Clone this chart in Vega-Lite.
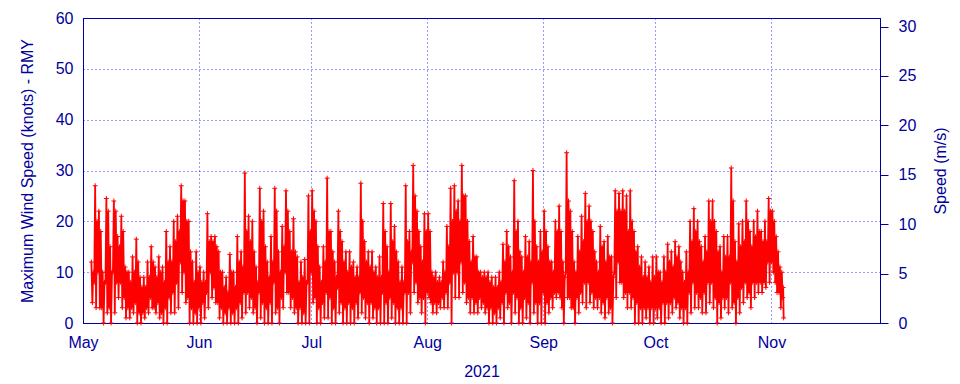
{
"$schema": "https://vega.github.io/schema/vega-lite/v6.json",
"width": 797, "height": 305,
"autosize": {"type": "none"},
"padding": {"left": 83, "top": 18, "right": 80, "bottom": 61},
"background": "white",
"config": {
 "font": "Liberation Sans",
 "view": {"stroke": "#00009c", "strokeWidth": 1},
 "axis": {"labelFont": "Liberation Sans", "labelFontSize": 16, "labelColor": "#00009c", "titleFont": "Liberation Sans", "titleFontSize": 16, "titleFontWeight": "normal", "titleColor": "#00009c", "domainColor": "#00009c", "tickColor": "#00009c", "gridColor": "#0000ff", "gridDash": [1, 3], "gridOpacity": 0.8, "gridWidth": 1}
},
"layer": [
 {
  "data": {"values": [
{"t":"2021-05-03T06:00","v":12},{"t":"2021-05-03T12:00","v":4},{"t":"2021-05-03T18:00","v":10},
{"t":"2021-05-04T00:00","v":8},{"t":"2021-05-04T06:00","v":27},{"t":"2021-05-04T12:00","v":3},{"t":"2021-05-04T18:00","v":20},
{"t":"2021-05-05T00:00","v":10},{"t":"2021-05-05T06:00","v":22},{"t":"2021-05-05T12:00","v":3},{"t":"2021-05-05T18:00","v":18},
{"t":"2021-05-06T00:00","v":3},{"t":"2021-05-06T06:00","v":10},{"t":"2021-05-06T12:00","v":0},{"t":"2021-05-06T18:00","v":8},
{"t":"2021-05-07T00:00","v":8},{"t":"2021-05-07T06:00","v":24.5},{"t":"2021-05-07T12:00","v":2},{"t":"2021-05-07T18:00","v":22},
{"t":"2021-05-08T00:00","v":3},{"t":"2021-05-08T06:00","v":15},{"t":"2021-05-08T12:00","v":0},{"t":"2021-05-08T18:00","v":10},
{"t":"2021-05-09T00:00","v":10},{"t":"2021-05-09T06:00","v":24},{"t":"2021-05-09T12:00","v":2},{"t":"2021-05-09T18:00","v":22},
{"t":"2021-05-10T00:00","v":8},{"t":"2021-05-10T06:00","v":17},{"t":"2021-05-10T12:00","v":5},{"t":"2021-05-10T18:00","v":15},
{"t":"2021-05-11T00:00","v":8},{"t":"2021-05-11T06:00","v":21},{"t":"2021-05-11T12:00","v":3},{"t":"2021-05-11T18:00","v":18},
{"t":"2021-05-12T00:00","v":5},{"t":"2021-05-12T06:00","v":11},{"t":"2021-05-12T12:00","v":1},{"t":"2021-05-12T18:00","v":10},
{"t":"2021-05-13T00:00","v":3},{"t":"2021-05-13T06:00","v":10},{"t":"2021-05-13T12:00","v":1},{"t":"2021-05-13T18:00","v":8},
{"t":"2021-05-14T00:00","v":3},{"t":"2021-05-14T06:00","v":13},{"t":"2021-05-14T12:00","v":2},{"t":"2021-05-14T18:00","v":10},
{"t":"2021-05-15T00:00","v":4},{"t":"2021-05-15T06:00","v":16.5},{"t":"2021-05-15T12:00","v":0},{"t":"2021-05-15T18:00","v":12},
{"t":"2021-05-16T00:00","v":2},{"t":"2021-05-16T06:00","v":9},{"t":"2021-05-16T12:00","v":0},{"t":"2021-05-16T18:00","v":7},
{"t":"2021-05-17T00:00","v":2},{"t":"2021-05-17T06:00","v":9},{"t":"2021-05-17T12:00","v":1},{"t":"2021-05-17T18:00","v":7},
{"t":"2021-05-18T00:00","v":3},{"t":"2021-05-18T06:00","v":12},{"t":"2021-05-18T12:00","v":2},{"t":"2021-05-18T18:00","v":9},
{"t":"2021-05-19T00:00","v":5},{"t":"2021-05-19T06:00","v":15},{"t":"2021-05-19T12:00","v":3},{"t":"2021-05-19T18:00","v":12},
{"t":"2021-05-20T00:00","v":3},{"t":"2021-05-20T06:00","v":11},{"t":"2021-05-20T12:00","v":2},{"t":"2021-05-20T18:00","v":9},
{"t":"2021-05-21T00:00","v":4},{"t":"2021-05-21T06:00","v":13},{"t":"2021-05-21T12:00","v":1},{"t":"2021-05-21T18:00","v":10},
{"t":"2021-05-22T00:00","v":2},{"t":"2021-05-22T06:00","v":11},{"t":"2021-05-22T12:00","v":0},{"t":"2021-05-22T18:00","v":8},
{"t":"2021-05-23T00:00","v":3},{"t":"2021-05-23T06:00","v":18},{"t":"2021-05-23T12:00","v":0},{"t":"2021-05-23T18:00","v":12},
{"t":"2021-05-24T00:00","v":5},{"t":"2021-05-24T06:00","v":15},{"t":"2021-05-24T12:00","v":2},{"t":"2021-05-24T18:00","v":12},
{"t":"2021-05-25T00:00","v":6},{"t":"2021-05-25T06:00","v":20},{"t":"2021-05-25T12:00","v":2},{"t":"2021-05-25T18:00","v":16},
{"t":"2021-05-26T00:00","v":8},{"t":"2021-05-26T06:00","v":21},{"t":"2021-05-26T12:00","v":3},{"t":"2021-05-26T18:00","v":18},
{"t":"2021-05-27T00:00","v":12},{"t":"2021-05-27T06:00","v":27},{"t":"2021-05-27T12:00","v":6},{"t":"2021-05-27T18:00","v":24},
{"t":"2021-05-28T00:00","v":10},{"t":"2021-05-28T06:00","v":24},{"t":"2021-05-28T12:00","v":4},{"t":"2021-05-28T18:00","v":20},
{"t":"2021-05-29T00:00","v":5},{"t":"2021-05-29T06:00","v":20},{"t":"2021-05-29T12:00","v":0},{"t":"2021-05-29T18:00","v":14},
{"t":"2021-05-30T00:00","v":3},{"t":"2021-05-30T06:00","v":12},{"t":"2021-05-30T12:00","v":0},{"t":"2021-05-30T18:00","v":8},
{"t":"2021-05-31T00:00","v":2},{"t":"2021-05-31T06:00","v":14},{"t":"2021-05-31T12:00","v":0},{"t":"2021-05-31T18:00","v":10},
{"t":"2021-06-01T00:00","v":3},{"t":"2021-06-01T06:00","v":11},{"t":"2021-06-01T12:00","v":0},{"t":"2021-06-01T18:00","v":8},
{"t":"2021-06-02T00:00","v":4},{"t":"2021-06-02T06:00","v":10},{"t":"2021-06-02T12:00","v":1},{"t":"2021-06-02T18:00","v":8},
{"t":"2021-06-03T00:00","v":6},{"t":"2021-06-03T06:00","v":21.5},{"t":"2021-06-03T12:00","v":3},{"t":"2021-06-03T18:00","v":16},
{"t":"2021-06-04T00:00","v":10},{"t":"2021-06-04T06:00","v":17},{"t":"2021-06-04T12:00","v":5},{"t":"2021-06-04T18:00","v":16},
{"t":"2021-06-05T00:00","v":7},{"t":"2021-06-05T06:00","v":17},{"t":"2021-06-05T12:00","v":4},{"t":"2021-06-05T18:00","v":15},
{"t":"2021-06-06T00:00","v":4},{"t":"2021-06-06T06:00","v":14},{"t":"2021-06-06T12:00","v":1},{"t":"2021-06-06T18:00","v":10},
{"t":"2021-06-07T00:00","v":3},{"t":"2021-06-07T06:00","v":10},{"t":"2021-06-07T12:00","v":0},{"t":"2021-06-07T18:00","v":7},
{"t":"2021-06-08T00:00","v":2},{"t":"2021-06-08T06:00","v":9},{"t":"2021-06-08T12:00","v":0},{"t":"2021-06-08T18:00","v":6},
{"t":"2021-06-09T00:00","v":3},{"t":"2021-06-09T06:00","v":13.5},{"t":"2021-06-09T12:00","v":0},{"t":"2021-06-09T18:00","v":10},
{"t":"2021-06-10T00:00","v":2},{"t":"2021-06-10T06:00","v":10},{"t":"2021-06-10T12:00","v":0},{"t":"2021-06-10T18:00","v":7},
{"t":"2021-06-11T00:00","v":3},{"t":"2021-06-11T06:00","v":17},{"t":"2021-06-11T12:00","v":0},{"t":"2021-06-11T18:00","v":12},
{"t":"2021-06-12T00:00","v":4},{"t":"2021-06-12T06:00","v":14},{"t":"2021-06-12T12:00","v":1},{"t":"2021-06-12T18:00","v":11},
{"t":"2021-06-13T00:00","v":6},{"t":"2021-06-13T06:00","v":29.5},{"t":"2021-06-13T12:00","v":2},{"t":"2021-06-13T18:00","v":18},
{"t":"2021-06-14T00:00","v":6},{"t":"2021-06-14T06:00","v":21},{"t":"2021-06-14T12:00","v":3},{"t":"2021-06-14T18:00","v":16},
{"t":"2021-06-15T00:00","v":5},{"t":"2021-06-15T06:00","v":20},{"t":"2021-06-15T12:00","v":2},{"t":"2021-06-15T18:00","v":14},
{"t":"2021-06-16T00:00","v":3},{"t":"2021-06-16T06:00","v":11},{"t":"2021-06-16T12:00","v":0},{"t":"2021-06-16T18:00","v":8},
{"t":"2021-06-17T00:00","v":6},{"t":"2021-06-17T06:00","v":26.5},{"t":"2021-06-17T12:00","v":1},{"t":"2021-06-17T18:00","v":20},
{"t":"2021-06-18T00:00","v":4},{"t":"2021-06-18T06:00","v":22},{"t":"2021-06-18T12:00","v":0},{"t":"2021-06-18T18:00","v":15},
{"t":"2021-06-19T00:00","v":3},{"t":"2021-06-19T06:00","v":12},{"t":"2021-06-19T12:00","v":0},{"t":"2021-06-19T18:00","v":9},
{"t":"2021-06-20T00:00","v":4},{"t":"2021-06-20T06:00","v":17},{"t":"2021-06-20T12:00","v":0},{"t":"2021-06-20T18:00","v":12},
{"t":"2021-06-21T00:00","v":8},{"t":"2021-06-21T06:00","v":26.5},{"t":"2021-06-21T12:00","v":2},{"t":"2021-06-21T18:00","v":22},
{"t":"2021-06-22T00:00","v":3},{"t":"2021-06-22T06:00","v":14},{"t":"2021-06-22T12:00","v":0},{"t":"2021-06-22T18:00","v":10},
{"t":"2021-06-23T00:00","v":5},{"t":"2021-06-23T06:00","v":19},{"t":"2021-06-23T12:00","v":3},{"t":"2021-06-23T18:00","v":15},
{"t":"2021-06-24T00:00","v":10},{"t":"2021-06-24T06:00","v":26},{"t":"2021-06-24T12:00","v":6},{"t":"2021-06-24T18:00","v":22},
{"t":"2021-06-25T00:00","v":6},{"t":"2021-06-25T06:00","v":18},{"t":"2021-06-25T12:00","v":3},{"t":"2021-06-25T18:00","v":14},
{"t":"2021-06-26T00:00","v":5},{"t":"2021-06-26T06:00","v":20.5},{"t":"2021-06-26T12:00","v":2},{"t":"2021-06-26T18:00","v":14},
{"t":"2021-06-27T00:00","v":3},{"t":"2021-06-27T06:00","v":13},{"t":"2021-06-27T12:00","v":0},{"t":"2021-06-27T18:00","v":8},
{"t":"2021-06-28T00:00","v":3},{"t":"2021-06-28T06:00","v":12},{"t":"2021-06-28T12:00","v":0},{"t":"2021-06-28T18:00","v":9},
{"t":"2021-06-29T00:00","v":2},{"t":"2021-06-29T06:00","v":12.5},{"t":"2021-06-29T12:00","v":0},{"t":"2021-06-29T18:00","v":8},
{"t":"2021-06-30T00:00","v":8},{"t":"2021-06-30T06:00","v":25},{"t":"2021-06-30T12:00","v":0},{"t":"2021-06-30T18:00","v":18},
{"t":"2021-07-01T00:00","v":10},{"t":"2021-07-01T06:00","v":26},{"t":"2021-07-01T12:00","v":4},{"t":"2021-07-01T18:00","v":22},
{"t":"2021-07-02T00:00","v":5},{"t":"2021-07-02T06:00","v":20},{"t":"2021-07-02T12:00","v":0},{"t":"2021-07-02T18:00","v":15},
{"t":"2021-07-03T00:00","v":3},{"t":"2021-07-03T06:00","v":11},{"t":"2021-07-03T12:00","v":0},{"t":"2021-07-03T18:00","v":8},
{"t":"2021-07-04T00:00","v":4},{"t":"2021-07-04T06:00","v":15},{"t":"2021-07-04T12:00","v":1},{"t":"2021-07-04T18:00","v":12},
{"t":"2021-07-05T00:00","v":6},{"t":"2021-07-05T06:00","v":28.5},{"t":"2021-07-05T12:00","v":1},{"t":"2021-07-05T18:00","v":18},
{"t":"2021-07-06T00:00","v":5},{"t":"2021-07-06T06:00","v":18},{"t":"2021-07-06T12:00","v":0},{"t":"2021-07-06T18:00","v":14},
{"t":"2021-07-07T00:00","v":3},{"t":"2021-07-07T06:00","v":12},{"t":"2021-07-07T12:00","v":0},{"t":"2021-07-07T18:00","v":9},
{"t":"2021-07-08T00:00","v":7},{"t":"2021-07-08T06:00","v":22},{"t":"2021-07-08T12:00","v":2},{"t":"2021-07-08T18:00","v":18},
{"t":"2021-07-09T00:00","v":4},{"t":"2021-07-09T06:00","v":16},{"t":"2021-07-09T12:00","v":0},{"t":"2021-07-09T18:00","v":12},
{"t":"2021-07-10T00:00","v":3},{"t":"2021-07-10T06:00","v":14},{"t":"2021-07-10T12:00","v":0},{"t":"2021-07-10T18:00","v":10},
{"t":"2021-07-11T00:00","v":4},{"t":"2021-07-11T06:00","v":14},{"t":"2021-07-11T12:00","v":0},{"t":"2021-07-11T18:00","v":11},
{"t":"2021-07-12T00:00","v":3},{"t":"2021-07-12T06:00","v":12},{"t":"2021-07-12T12:00","v":0},{"t":"2021-07-12T18:00","v":9},
{"t":"2021-07-13T00:00","v":4},{"t":"2021-07-13T06:00","v":11},{"t":"2021-07-13T12:00","v":1},{"t":"2021-07-13T18:00","v":9},
{"t":"2021-07-14T00:00","v":6},{"t":"2021-07-14T06:00","v":27.5},{"t":"2021-07-14T12:00","v":2},{"t":"2021-07-14T18:00","v":20},
{"t":"2021-07-15T00:00","v":5},{"t":"2021-07-15T06:00","v":16},{"t":"2021-07-15T12:00","v":1},{"t":"2021-07-15T18:00","v":12},
{"t":"2021-07-16T00:00","v":4},{"t":"2021-07-16T06:00","v":14},{"t":"2021-07-16T12:00","v":0},{"t":"2021-07-16T18:00","v":11},
{"t":"2021-07-17T00:00","v":4},{"t":"2021-07-17T06:00","v":14},{"t":"2021-07-17T12:00","v":1},{"t":"2021-07-17T18:00","v":10},
{"t":"2021-07-18T00:00","v":3},{"t":"2021-07-18T06:00","v":11},{"t":"2021-07-18T12:00","v":0},{"t":"2021-07-18T18:00","v":9},
{"t":"2021-07-19T00:00","v":3},{"t":"2021-07-19T06:00","v":13},{"t":"2021-07-19T12:00","v":0},{"t":"2021-07-19T18:00","v":9},
{"t":"2021-07-20T00:00","v":6},{"t":"2021-07-20T06:00","v":23.5},{"t":"2021-07-20T12:00","v":0},{"t":"2021-07-20T18:00","v":18},
{"t":"2021-07-21T00:00","v":4},{"t":"2021-07-21T06:00","v":15},{"t":"2021-07-21T12:00","v":0},{"t":"2021-07-21T18:00","v":10},
{"t":"2021-07-22T00:00","v":5},{"t":"2021-07-22T06:00","v":23.5},{"t":"2021-07-22T12:00","v":1},{"t":"2021-07-22T18:00","v":16},
{"t":"2021-07-23T00:00","v":4},{"t":"2021-07-23T06:00","v":19},{"t":"2021-07-23T12:00","v":0},{"t":"2021-07-23T18:00","v":14},
{"t":"2021-07-24T00:00","v":3},{"t":"2021-07-24T06:00","v":12},{"t":"2021-07-24T12:00","v":0},{"t":"2021-07-24T18:00","v":8},
{"t":"2021-07-25T00:00","v":3},{"t":"2021-07-25T06:00","v":11},{"t":"2021-07-25T12:00","v":0},{"t":"2021-07-25T18:00","v":8},
{"t":"2021-07-26T00:00","v":6},{"t":"2021-07-26T06:00","v":27},{"t":"2021-07-26T12:00","v":0},{"t":"2021-07-26T18:00","v":16},
{"t":"2021-07-27T00:00","v":6},{"t":"2021-07-27T06:00","v":18},{"t":"2021-07-27T12:00","v":2},{"t":"2021-07-27T18:00","v":14},
{"t":"2021-07-28T00:00","v":12},{"t":"2021-07-28T06:00","v":31},{"t":"2021-07-28T12:00","v":6},{"t":"2021-07-28T18:00","v":25},
{"t":"2021-07-29T00:00","v":8},{"t":"2021-07-29T06:00","v":22},{"t":"2021-07-29T12:00","v":4},{"t":"2021-07-29T18:00","v":18},
{"t":"2021-07-30T00:00","v":5},{"t":"2021-07-30T06:00","v":15},{"t":"2021-07-30T12:00","v":2},{"t":"2021-07-30T18:00","v":12},
{"t":"2021-07-31T00:00","v":5},{"t":"2021-07-31T06:00","v":21.5},{"t":"2021-07-31T12:00","v":0},{"t":"2021-07-31T18:00","v":18},
{"t":"2021-08-01T00:00","v":6},{"t":"2021-08-01T06:00","v":21.5},{"t":"2021-08-01T12:00","v":5},{"t":"2021-08-01T18:00","v":18},
{"t":"2021-08-02T00:00","v":4},{"t":"2021-08-02T06:00","v":10},{"t":"2021-08-02T12:00","v":2},{"t":"2021-08-02T18:00","v":9},
{"t":"2021-08-03T00:00","v":4},{"t":"2021-08-03T06:00","v":10},{"t":"2021-08-03T12:00","v":2},{"t":"2021-08-03T18:00","v":8},
{"t":"2021-08-04T00:00","v":4},{"t":"2021-08-04T06:00","v":9},{"t":"2021-08-04T12:00","v":3},{"t":"2021-08-04T18:00","v":8},
{"t":"2021-08-05T00:00","v":5},{"t":"2021-08-05T06:00","v":12},{"t":"2021-08-05T12:00","v":3},{"t":"2021-08-05T18:00","v":10},
{"t":"2021-08-06T00:00","v":6},{"t":"2021-08-06T06:00","v":19},{"t":"2021-08-06T12:00","v":3},{"t":"2021-08-06T18:00","v":15},
{"t":"2021-08-07T00:00","v":8},{"t":"2021-08-07T06:00","v":26.5},{"t":"2021-08-07T12:00","v":0},{"t":"2021-08-07T18:00","v":20},
{"t":"2021-08-08T00:00","v":10},{"t":"2021-08-08T06:00","v":27},{"t":"2021-08-08T12:00","v":5},{"t":"2021-08-08T18:00","v":22},
{"t":"2021-08-09T00:00","v":10},{"t":"2021-08-09T06:00","v":24},{"t":"2021-08-09T12:00","v":5},{"t":"2021-08-09T18:00","v":20},
{"t":"2021-08-10T00:00","v":12},{"t":"2021-08-10T06:00","v":31},{"t":"2021-08-10T12:00","v":6},{"t":"2021-08-10T18:00","v":25},
{"t":"2021-08-11T00:00","v":8},{"t":"2021-08-11T06:00","v":25},{"t":"2021-08-11T12:00","v":4},{"t":"2021-08-11T18:00","v":20},
{"t":"2021-08-12T00:00","v":5},{"t":"2021-08-12T06:00","v":16},{"t":"2021-08-12T12:00","v":2},{"t":"2021-08-12T18:00","v":12},
{"t":"2021-08-13T00:00","v":5},{"t":"2021-08-13T06:00","v":17},{"t":"2021-08-13T12:00","v":2},{"t":"2021-08-13T18:00","v":13},
{"t":"2021-08-14T00:00","v":4},{"t":"2021-08-14T06:00","v":13},{"t":"2021-08-14T12:00","v":2},{"t":"2021-08-14T18:00","v":10},
{"t":"2021-08-15T00:00","v":5},{"t":"2021-08-15T06:00","v":10},{"t":"2021-08-15T12:00","v":3},{"t":"2021-08-15T18:00","v":9},
{"t":"2021-08-16T00:00","v":4},{"t":"2021-08-16T06:00","v":10},{"t":"2021-08-16T12:00","v":2},{"t":"2021-08-16T18:00","v":9},
{"t":"2021-08-17T00:00","v":3},{"t":"2021-08-17T06:00","v":10},{"t":"2021-08-17T12:00","v":0},{"t":"2021-08-17T18:00","v":8},
{"t":"2021-08-18T00:00","v":3},{"t":"2021-08-18T06:00","v":9},{"t":"2021-08-18T12:00","v":0},{"t":"2021-08-18T18:00","v":7},
{"t":"2021-08-19T00:00","v":2},{"t":"2021-08-19T06:00","v":9},{"t":"2021-08-19T12:00","v":0},{"t":"2021-08-19T18:00","v":7},
{"t":"2021-08-20T00:00","v":3},{"t":"2021-08-20T06:00","v":10},{"t":"2021-08-20T12:00","v":1},{"t":"2021-08-20T18:00","v":8},
{"t":"2021-08-21T00:00","v":4},{"t":"2021-08-21T06:00","v":15.5},{"t":"2021-08-21T12:00","v":0},{"t":"2021-08-21T18:00","v":12},
{"t":"2021-08-22T00:00","v":6},{"t":"2021-08-22T06:00","v":18},{"t":"2021-08-22T12:00","v":3},{"t":"2021-08-22T18:00","v":15},
{"t":"2021-08-23T00:00","v":4},{"t":"2021-08-23T06:00","v":13},{"t":"2021-08-23T12:00","v":0},{"t":"2021-08-23T18:00","v":10},
{"t":"2021-08-24T00:00","v":6},{"t":"2021-08-24T06:00","v":28},{"t":"2021-08-24T12:00","v":2},{"t":"2021-08-24T18:00","v":18},
{"t":"2021-08-25T00:00","v":5},{"t":"2021-08-25T06:00","v":20},{"t":"2021-08-25T12:00","v":0},{"t":"2021-08-25T18:00","v":14},
{"t":"2021-08-26T00:00","v":3},{"t":"2021-08-26T06:00","v":13},{"t":"2021-08-26T12:00","v":0},{"t":"2021-08-26T18:00","v":10},
{"t":"2021-08-27T00:00","v":5},{"t":"2021-08-27T06:00","v":17},{"t":"2021-08-27T12:00","v":1},{"t":"2021-08-27T18:00","v":13},
{"t":"2021-08-28T00:00","v":4},{"t":"2021-08-28T06:00","v":16},{"t":"2021-08-28T12:00","v":0},{"t":"2021-08-28T18:00","v":12},
{"t":"2021-08-29T00:00","v":8},{"t":"2021-08-29T06:00","v":30},{"t":"2021-08-29T12:00","v":2},{"t":"2021-08-29T18:00","v":20},
{"t":"2021-08-30T00:00","v":4},{"t":"2021-08-30T06:00","v":15},{"t":"2021-08-30T12:00","v":0},{"t":"2021-08-30T18:00","v":12},
{"t":"2021-08-31T00:00","v":4},{"t":"2021-08-31T06:00","v":18},{"t":"2021-08-31T12:00","v":0},{"t":"2021-08-31T18:00","v":14},
{"t":"2021-09-01T00:00","v":6},{"t":"2021-09-01T06:00","v":22},{"t":"2021-09-01T12:00","v":0},{"t":"2021-09-01T18:00","v":18},
{"t":"2021-09-02T00:00","v":4},{"t":"2021-09-02T06:00","v":15},{"t":"2021-09-02T12:00","v":2},{"t":"2021-09-02T18:00","v":12},
{"t":"2021-09-03T00:00","v":5},{"t":"2021-09-03T06:00","v":12},{"t":"2021-09-03T12:00","v":3},{"t":"2021-09-03T18:00","v":10},
{"t":"2021-09-04T00:00","v":6},{"t":"2021-09-04T06:00","v":20},{"t":"2021-09-04T12:00","v":5},{"t":"2021-09-04T18:00","v":18},
{"t":"2021-09-05T00:00","v":6},{"t":"2021-09-05T06:00","v":23},{"t":"2021-09-05T12:00","v":5},{"t":"2021-09-05T18:00","v":18},
{"t":"2021-09-06T00:00","v":3},{"t":"2021-09-06T06:00","v":12},{"t":"2021-09-06T12:00","v":0},{"t":"2021-09-06T18:00","v":9},
{"t":"2021-09-07T00:00","v":10},{"t":"2021-09-07T06:00","v":33.5},{"t":"2021-09-07T12:00","v":5},{"t":"2021-09-07T18:00","v":24},
{"t":"2021-09-08T00:00","v":5},{"t":"2021-09-08T06:00","v":22},{"t":"2021-09-08T12:00","v":3},{"t":"2021-09-08T18:00","v":18},
{"t":"2021-09-09T00:00","v":3},{"t":"2021-09-09T06:00","v":12},{"t":"2021-09-09T12:00","v":0},{"t":"2021-09-09T18:00","v":10},
{"t":"2021-09-10T00:00","v":5},{"t":"2021-09-10T06:00","v":17},{"t":"2021-09-10T12:00","v":2},{"t":"2021-09-10T18:00","v":14},
{"t":"2021-09-11T00:00","v":6},{"t":"2021-09-11T06:00","v":21},{"t":"2021-09-11T12:00","v":4},{"t":"2021-09-11T18:00","v":16},
{"t":"2021-09-12T00:00","v":8},{"t":"2021-09-12T06:00","v":25.5},{"t":"2021-09-12T12:00","v":3},{"t":"2021-09-12T18:00","v":20},
{"t":"2021-09-13T00:00","v":8},{"t":"2021-09-13T06:00","v":23},{"t":"2021-09-13T12:00","v":4},{"t":"2021-09-13T18:00","v":20},
{"t":"2021-09-14T00:00","v":6},{"t":"2021-09-14T06:00","v":18},{"t":"2021-09-14T12:00","v":3},{"t":"2021-09-14T18:00","v":14},
{"t":"2021-09-15T00:00","v":5},{"t":"2021-09-15T06:00","v":12},{"t":"2021-09-15T12:00","v":3},{"t":"2021-09-15T18:00","v":10},
{"t":"2021-09-16T00:00","v":5},{"t":"2021-09-16T06:00","v":19},{"t":"2021-09-16T12:00","v":2},{"t":"2021-09-16T18:00","v":15},
{"t":"2021-09-17T00:00","v":4},{"t":"2021-09-17T06:00","v":16},{"t":"2021-09-17T12:00","v":1},{"t":"2021-09-17T18:00","v":12},
{"t":"2021-09-18T00:00","v":5},{"t":"2021-09-18T06:00","v":17},{"t":"2021-09-18T12:00","v":2},{"t":"2021-09-18T18:00","v":13},
{"t":"2021-09-19T00:00","v":3},{"t":"2021-09-19T06:00","v":13},{"t":"2021-09-19T12:00","v":0},{"t":"2021-09-19T18:00","v":9},
{"t":"2021-09-20T00:00","v":10},{"t":"2021-09-20T06:00","v":26},{"t":"2021-09-20T12:00","v":5},{"t":"2021-09-20T18:00","v":22},
{"t":"2021-09-21T00:00","v":12},{"t":"2021-09-21T06:00","v":25.5},{"t":"2021-09-21T12:00","v":8},{"t":"2021-09-21T18:00","v":22},
{"t":"2021-09-22T00:00","v":8},{"t":"2021-09-22T06:00","v":26},{"t":"2021-09-22T12:00","v":5},{"t":"2021-09-22T18:00","v":22},
{"t":"2021-09-23T00:00","v":6},{"t":"2021-09-23T06:00","v":25},{"t":"2021-09-23T12:00","v":3},{"t":"2021-09-23T18:00","v":18},
{"t":"2021-09-24T00:00","v":6},{"t":"2021-09-24T06:00","v":26},{"t":"2021-09-24T12:00","v":3},{"t":"2021-09-24T18:00","v":20},
{"t":"2021-09-25T00:00","v":5},{"t":"2021-09-25T06:00","v":18},{"t":"2021-09-25T12:00","v":0},{"t":"2021-09-25T18:00","v":14},
{"t":"2021-09-26T00:00","v":4},{"t":"2021-09-26T06:00","v":15},{"t":"2021-09-26T12:00","v":0},{"t":"2021-09-26T18:00","v":11},
{"t":"2021-09-27T00:00","v":3},{"t":"2021-09-27T06:00","v":13},{"t":"2021-09-27T12:00","v":0},{"t":"2021-09-27T18:00","v":9},
{"t":"2021-09-28T00:00","v":3},{"t":"2021-09-28T06:00","v":12},{"t":"2021-09-28T12:00","v":1},{"t":"2021-09-28T18:00","v":9},
{"t":"2021-09-29T00:00","v":3},{"t":"2021-09-29T06:00","v":11},{"t":"2021-09-29T12:00","v":0},{"t":"2021-09-29T18:00","v":8},
{"t":"2021-09-30T00:00","v":3},{"t":"2021-09-30T06:00","v":13},{"t":"2021-09-30T12:00","v":0},{"t":"2021-09-30T18:00","v":9},
{"t":"2021-10-01T00:00","v":3},{"t":"2021-10-01T06:00","v":13},{"t":"2021-10-01T12:00","v":1},{"t":"2021-10-01T18:00","v":10},
{"t":"2021-10-02T00:00","v":3},{"t":"2021-10-02T06:00","v":10},{"t":"2021-10-02T12:00","v":0},{"t":"2021-10-02T18:00","v":8},
{"t":"2021-10-03T00:00","v":4},{"t":"2021-10-03T06:00","v":13},{"t":"2021-10-03T12:00","v":0},{"t":"2021-10-03T18:00","v":10},
{"t":"2021-10-04T00:00","v":4},{"t":"2021-10-04T06:00","v":15.5},{"t":"2021-10-04T12:00","v":1},{"t":"2021-10-04T18:00","v":12},
{"t":"2021-10-05T00:00","v":4},{"t":"2021-10-05T06:00","v":14},{"t":"2021-10-05T12:00","v":2},{"t":"2021-10-05T18:00","v":11},
{"t":"2021-10-06T00:00","v":5},{"t":"2021-10-06T06:00","v":16},{"t":"2021-10-06T12:00","v":3},{"t":"2021-10-06T18:00","v":13},
{"t":"2021-10-07T00:00","v":4},{"t":"2021-10-07T06:00","v":15},{"t":"2021-10-07T12:00","v":1},{"t":"2021-10-07T18:00","v":12},
{"t":"2021-10-08T00:00","v":3},{"t":"2021-10-08T06:00","v":10},{"t":"2021-10-08T12:00","v":0},{"t":"2021-10-08T18:00","v":8},
{"t":"2021-10-09T00:00","v":3},{"t":"2021-10-09T06:00","v":14},{"t":"2021-10-09T12:00","v":0},{"t":"2021-10-09T18:00","v":10},
{"t":"2021-10-10T00:00","v":6},{"t":"2021-10-10T06:00","v":20},{"t":"2021-10-10T12:00","v":2},{"t":"2021-10-10T18:00","v":16},
{"t":"2021-10-11T00:00","v":8},{"t":"2021-10-11T06:00","v":22.5},{"t":"2021-10-11T12:00","v":3},{"t":"2021-10-11T18:00","v":18},
{"t":"2021-10-12T00:00","v":6},{"t":"2021-10-12T06:00","v":20},{"t":"2021-10-12T12:00","v":3},{"t":"2021-10-12T18:00","v":16},
{"t":"2021-10-13T00:00","v":5},{"t":"2021-10-13T06:00","v":15},{"t":"2021-10-13T12:00","v":2},{"t":"2021-10-13T18:00","v":12},
{"t":"2021-10-14T00:00","v":6},{"t":"2021-10-14T06:00","v":17},{"t":"2021-10-14T12:00","v":2},{"t":"2021-10-14T18:00","v":14},
{"t":"2021-10-15T00:00","v":8},{"t":"2021-10-15T06:00","v":24},{"t":"2021-10-15T12:00","v":4},{"t":"2021-10-15T18:00","v":20},
{"t":"2021-10-16T00:00","v":8},{"t":"2021-10-16T06:00","v":24},{"t":"2021-10-16T12:00","v":3},{"t":"2021-10-16T18:00","v":20},
{"t":"2021-10-17T00:00","v":5},{"t":"2021-10-17T06:00","v":18},{"t":"2021-10-17T12:00","v":0},{"t":"2021-10-17T18:00","v":14},
{"t":"2021-10-18T00:00","v":4},{"t":"2021-10-18T06:00","v":15},{"t":"2021-10-18T12:00","v":1},{"t":"2021-10-18T18:00","v":10},
{"t":"2021-10-19T00:00","v":5},{"t":"2021-10-19T06:00","v":17},{"t":"2021-10-19T12:00","v":3},{"t":"2021-10-19T18:00","v":13},
{"t":"2021-10-20T00:00","v":5},{"t":"2021-10-20T06:00","v":17},{"t":"2021-10-20T12:00","v":2},{"t":"2021-10-20T18:00","v":13},
{"t":"2021-10-21T00:00","v":8},{"t":"2021-10-21T06:00","v":30.5},{"t":"2021-10-21T12:00","v":3},{"t":"2021-10-21T18:00","v":24},
{"t":"2021-10-22T00:00","v":4},{"t":"2021-10-22T06:00","v":16},{"t":"2021-10-22T12:00","v":0},{"t":"2021-10-22T18:00","v":12},
{"t":"2021-10-23T00:00","v":5},{"t":"2021-10-23T06:00","v":19.5},{"t":"2021-10-23T12:00","v":2},{"t":"2021-10-23T18:00","v":15},
{"t":"2021-10-24T00:00","v":7},{"t":"2021-10-24T06:00","v":20},{"t":"2021-10-24T12:00","v":4},{"t":"2021-10-24T18:00","v":16},
{"t":"2021-10-25T00:00","v":8},{"t":"2021-10-25T06:00","v":24},{"t":"2021-10-25T12:00","v":5},{"t":"2021-10-25T18:00","v":20},
{"t":"2021-10-26T00:00","v":6},{"t":"2021-10-26T06:00","v":18},{"t":"2021-10-26T12:00","v":3},{"t":"2021-10-26T18:00","v":15},
{"t":"2021-10-27T00:00","v":8},{"t":"2021-10-27T06:00","v":20},{"t":"2021-10-27T12:00","v":5},{"t":"2021-10-27T18:00","v":17},
{"t":"2021-10-28T00:00","v":8},{"t":"2021-10-28T06:00","v":22},{"t":"2021-10-28T12:00","v":6},{"t":"2021-10-28T18:00","v":18},
{"t":"2021-10-29T00:00","v":8},{"t":"2021-10-29T06:00","v":18},{"t":"2021-10-29T12:00","v":6},{"t":"2021-10-29T18:00","v":16},
{"t":"2021-10-30T00:00","v":8},{"t":"2021-10-30T06:00","v":20},{"t":"2021-10-30T12:00","v":7},{"t":"2021-10-30T18:00","v":16},
{"t":"2021-10-31T00:00","v":12},{"t":"2021-10-31T06:00","v":24.5},{"t":"2021-10-31T12:00","v":8},{"t":"2021-10-31T18:00","v":22},
{"t":"2021-11-01T00:00","v":12},{"t":"2021-11-01T06:00","v":22},{"t":"2021-11-01T12:00","v":10},{"t":"2021-11-01T18:00","v":20},
{"t":"2021-11-02T00:00","v":8},{"t":"2021-11-02T06:00","v":17},{"t":"2021-11-02T12:00","v":6},{"t":"2021-11-02T18:00","v":14},
{"t":"2021-11-03T00:00","v":6},{"t":"2021-11-03T06:00","v":11},{"t":"2021-11-03T12:00","v":3},{"t":"2021-11-03T18:00","v":10},
{"t":"2021-11-04T00:00","v":5},{"t":"2021-11-04T03:00","v":7},{"t":"2021-11-04T06:00","v":1}
  ]},
  "encoding": {
   "x": {"field": "t", "type": "temporal",
     "scale": {"domain": [{"year": 2021, "month": 5, "date": 1}, {"year": 2021, "month": 11, "date": 30}]},
     "axis": {"title": "2021", "format": "%b", "labelFlush": false, "ticks": false, "tickSize": 0, "labelPadding": 11, "grid": true, "titleY": 48, "titleBaseline": "middle",
       "values": [{"year": 2021, "month": 5, "date": 1}, {"year": 2021, "month": 6, "date": 1}, {"year": 2021, "month": 7, "date": 1}, {"year": 2021, "month": 8, "date": 1}, {"year": 2021, "month": 9, "date": 1}, {"year": 2021, "month": 10, "date": 1}, {"year": 2021, "month": 11, "date": 1}]}},
   "y": {"field": "v", "type": "quantitative",
     "scale": {"domain": [0, 60], "nice": false},
     "axis": {"title": "Maximum Wind Speed (knots) - RMY", "values": [0, 10, 20, 30, 40, 50, 60], "ticks": false, "tickSize": 0, "labelPadding": 10, "grid": true, "titleX": -56, "titleBaseline": "middle"}}
  },
  "layer": [
   {"mark": {"type": "line", "color": "#ff0000", "strokeWidth": 1.8}},
   {"mark": {"type": "point", "shape": "M-1,0L1,0M0,-1L0,1", "size": 24, "filled": false, "stroke": "#ff0000", "strokeWidth": 1, "opacity": 1}}
  ]
 },
 {
  "data": {"values": [{"ms": 0}, {"ms": 30}]},
  "mark": {"type": "point", "opacity": 0},
  "encoding": {
   "y": {"field": "ms", "type": "quantitative",
     "scale": {"domain": [0, 30.867], "nice": false},
     "axis": {"orient": "right", "title": "Speed (m/s)", "values": [0, 5, 10, 15, 20, 25, 30], "tickSize": 8, "labelPadding": 10, "grid": false, "titleAngle": 270, "titleX": 60, "titleBaseline": "middle"}}
  }
 }
],
"resolve": {"scale": {"y": "independent"}}
}
